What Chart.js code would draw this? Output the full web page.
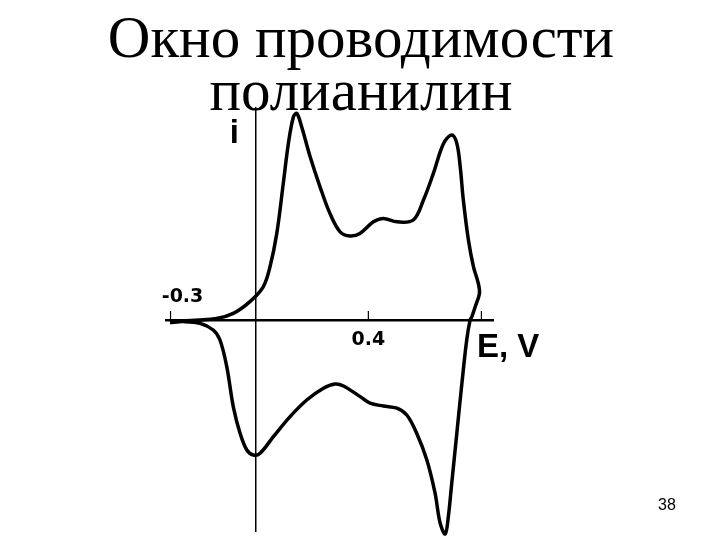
<!DOCTYPE html>
<html>
<head>
<meta charset="utf-8">
<script src="https://cdn.jsdelivr.net/npm/chart.js@4.4.0/dist/chart.umd.min.js"></script>
<style>
  html, body { margin: 0; padding: 0; background: #fff; }
  canvas { display: block; }
</style>
</head>
<body>
<canvas id="cv" width="720" height="540"></canvas>
<script>

// anodic branch (forward scan), E in V, i in arbitrary units
var anodicE = [-0.302, -0.137, -0.078, -0.019, 0.028, 0.052, 0.076, 0.099, 0.117, 0.135, 0.147, 0.164, 0.194, 0.229, 0.264, 0.300, 0.335, 0.370, 0.418, 0.453, 0.501, 0.559, 0.595, 0.630, 0.666, 0.695, 0.713, 0.725, 0.736, 0.754, 0.772, 0.789, 0.793, 0.778, 0.766];
var anodicI = [-0.8, 0.8, 3.3, 9.2, 16.6, 26.6, 43.3, 68.3, 88.3, 101.6, 103.3, 96.6, 81.6, 66.6, 53.3, 44.1, 42.0, 43.3, 49.1, 50.8, 49.1, 50.0, 60.0, 73.3, 88.3, 92.5, 88.3, 76.6, 60.0, 40.0, 26.6, 18.3, 13.3, 6.6, 1.6];

// cathodic branch (reverse scan)
var cathodicE = [0.760, 0.748, 0.731, 0.713, 0.695, 0.683, 0.672, 0.654, 0.636, 0.607, 0.571, 0.536, 0.501, 0.453, 0.406, 0.371, 0.312, 0.282, 0.241, 0.182, 0.123, 0.064, 0.017, -0.007, -0.030, -0.054, -0.078, -0.101, -0.125, -0.149, -0.196, -0.255, -0.302];
var cathodicI = [0, -10.0, -31.6, -56.6, -81.6, -98.3, -107.0, -101.6, -86.6, -70.0, -56.6, -47.5, -44.1, -43.0, -41.6, -38.3, -33.0, -32.0, -34.1, -40.0, -48.3, -58.3, -66.6, -67.5, -65.0, -56.6, -43.3, -23.3, -10.0, -5.0, -1.6, -0.8, -1.3];

var tickVals = [-0.3, 0.4, 0.8];
var titleLines = ["Окно проводимости", "полианилин"];

var loop = [];
anodicE.forEach(function (e, k) { loop.push({x: e, y: anodicI[k]}); });
cathodicE.forEach(function (e, k) { loop.push({x: e, y: cathodicI[k]}); });

// title, axis ticks and text labels
var decor = {
  id: 'decor',
  afterDraw: function (chart) {
    var ctx = chart.ctx;
    var x = chart.scales.x, y = chart.scales.y;
    var x0 = x.getPixelForValue(0);
    var y0 = y.getPixelForValue(0);
    ctx.save();
    ctx.fillStyle = '#000';
    ctx.strokeStyle = '#000';

    ctx.font = '59px "Liberation Serif"';
    ctx.textAlign = 'center';
    ctx.textBaseline = 'alphabetic';
    ctx.fillText(titleLines[0], 361, 57);
    ctx.fillText(titleLines[1], 361, 110);

    ctx.lineWidth = 1.2;
    tickVals.forEach(function (v) {
      var px = x.getPixelForValue(v);
      ctx.beginPath();
      ctx.moveTo(px, y0);
      ctx.lineTo(px, y0 - 9);
      ctx.stroke();
    });

    ctx.font = 'bold 19px "DejaVu Sans"';
    ctx.fillText('-0.3', x.getPixelForValue(-0.3) + 12, y0 - 18);
    ctx.fillText('0.4', x.getPixelForValue(0.4), y0 + 25);

    ctx.font = 'bold 33px "Liberation Sans"';
    ctx.fillText('i', x0 - 21, 143);
    ctx.textAlign = 'left';
    ctx.fillText('E, V', 477, 357);

    ctx.font = '16px "Liberation Sans"';
    ctx.textAlign = 'center';
    ctx.fillText('38', 667, 510);
    ctx.restore();
  }
};

new Chart("cv", {
  type: "scatter",
  data: {
    datasets: [{
      data: loop,
      showLine: true,
      borderColor: "#000",
      borderWidth: 3.5,
      pointRadius: 0,
      tension: 0.35,
      clip: false
    }]
  },
  options: {
    responsive: false,
    animation: false,
    layout: { padding: { left: 166, right: 227, top: 108, bottom: 9 } },
    plugins: { legend: { display: false }, tooltip: { enabled: false } },
    scales: {
      x: {
        type: "linear",
        min: -0.316, max: 0.841,
        position: { y: 0 },
        grid: { display: false },
        ticks: { display: false },
        border: { display: true, color: "#000", width: 2.5 }
      },
      y: {
        type: "linear",
        min: -105.5, max: 106,
        position: { x: 0 },
        grid: { display: false },
        ticks: { display: false },
        border: { display: true, color: "#000", width: 1.5 }
      }
    }
  },
  plugins: [decor]
});
</script>
</body>
</html>
